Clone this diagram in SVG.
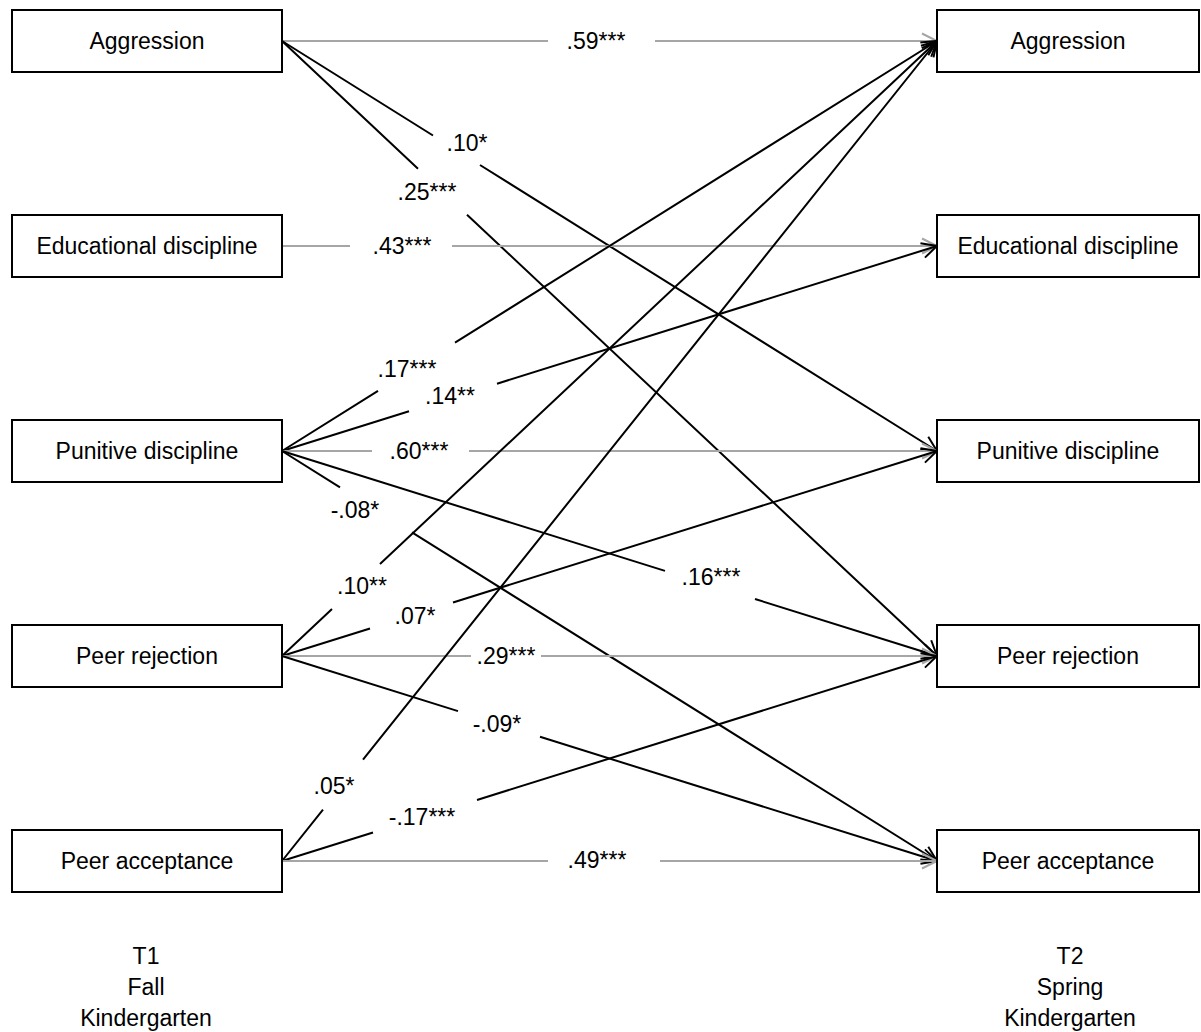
<svg xmlns="http://www.w3.org/2000/svg" width="1201" height="1032" viewBox="0 0 1201 1032">
<style>
.box{fill:#fff;stroke:#000;stroke-width:2}
.t{font-family:"Liberation Sans",Arial,sans-serif;font-size:23px;fill:#000;text-anchor:middle}
.b{fill:none;stroke:#000;stroke-width:2}
.g{fill:none;stroke:#a6a6a6;stroke-width:2}
</style>
<defs>
<marker id="ab" markerUnits="userSpaceOnUse" markerWidth="18" markerHeight="18" viewBox="0 0 18 18" refX="16" refY="9" orient="auto" overflow="visible">
<path d="M1,1.5 L16,9 L1,16.5" fill="none" stroke="#000" stroke-width="2"/>
</marker>
<marker id="ag" markerUnits="userSpaceOnUse" markerWidth="18" markerHeight="18" viewBox="0 0 18 18" refX="16" refY="9" orient="auto" overflow="visible">
<path d="M1,1.5 L16,9 L1,16.5" fill="none" stroke="#a6a6a6" stroke-width="2"/>
</marker>
</defs>
<rect width="1201" height="1032" fill="#fff"/>
<g id="connectors">
<path class="g" marker-end="url(#ag)" d="M282,41 L548,41 M655,41 L937,41"/>
<path class="b" marker-end="url(#ab)" d="M282,41 L433,135.5 M480,165 L937,451"/>
<path class="b" marker-end="url(#ab)" d="M282,41 L418,168.7 M467,214.7 L937,656"/>
<path class="g" marker-end="url(#ag)" d="M282,246 L350,246 M452,246 L937,246"/>
<path class="b" marker-end="url(#ab)" d="M282,451 L378,390.9 M455,342.7 L937,41"/>
<path class="b" marker-end="url(#ab)" d="M282,451 L409,411.2 M497,383.7 L937,246"/>
<path class="g" marker-end="url(#ag)" d="M282,451 L372,451 M469,451 L937,451"/>
<path class="b" marker-end="url(#ab)" d="M282,451 L665,570.9 M755,599 L937,656"/>
<path class="b" marker-end="url(#ab)" d="M282,451 L340,487.3 M412,532.4 L937,861"/>
<path class="b" marker-end="url(#ab)" d="M282,656 L332,609 M380,564 L937,41"/>
<path class="b" marker-end="url(#ab)" d="M282,656 L370,628.5 M453,602.5 L937,451"/>
<path class="g" marker-end="url(#ag)" d="M282,656 L471,656 M541,656 L937,656"/>
<path class="b" marker-end="url(#ab)" d="M282,656 L458,711.1 M540,736.8 L937,861"/>
<path class="b" marker-end="url(#ab)" d="M282,861 L323,809.7 M363,759.6 L937,41"/>
<path class="b" marker-end="url(#ab)" d="M282,861 L373,832.5 M477,800 L937,656"/>
<path class="g" marker-end="url(#ag)" d="M282,861 L548,861 M660,861 L937,861"/>
</g>
<g id="labels">
<text class="t" x="596" y="49">.59***</text>
<text class="t" x="467" y="151">.10*</text>
<text class="t" x="427" y="200">.25***</text>
<text class="t" x="402" y="254">.43***</text>
<text class="t" x="407" y="377">.17***</text>
<text class="t" x="450" y="404">.14**</text>
<text class="t" x="419" y="459">.60***</text>
<text class="t" x="711" y="585">.16***</text>
<text class="t" x="355" y="518">-.08*</text>
<text class="t" x="362" y="594">.10**</text>
<text class="t" x="415" y="624">.07*</text>
<text class="t" x="506" y="664">.29***</text>
<text class="t" x="497" y="732">-.09*</text>
<text class="t" x="334" y="794">.05*</text>
<text class="t" x="422" y="825">-.17***</text>
<text class="t" x="597" y="868">.49***</text>
</g>
<g id="n-l-aggr"><rect class="box" x="12" y="10" width="270" height="62"/><text class="t" x="147" y="49">Aggression</text></g>
<g id="n-l-edu"><rect class="box" x="12" y="215" width="270" height="62"/><text class="t" x="147" y="254">Educational discipline</text></g>
<g id="n-l-pun"><rect class="box" x="12" y="420" width="270" height="62"/><text class="t" x="147" y="459">Punitive discipline</text></g>
<g id="n-l-rej"><rect class="box" x="12" y="625" width="270" height="62"/><text class="t" x="147" y="664">Peer rejection</text></g>
<g id="n-l-acc"><rect class="box" x="12" y="830" width="270" height="62"/><text class="t" x="147" y="869">Peer acceptance</text></g>
<g id="n-r-aggr"><rect class="box" x="937" y="10" width="262" height="62"/><text class="t" x="1068" y="49">Aggression</text></g>
<g id="n-r-edu"><rect class="box" x="937" y="215" width="262" height="62"/><text class="t" x="1068" y="254">Educational discipline</text></g>
<g id="n-r-pun"><rect class="box" x="937" y="420" width="262" height="62"/><text class="t" x="1068" y="459">Punitive discipline</text></g>
<g id="n-r-rej"><rect class="box" x="937" y="625" width="262" height="62"/><text class="t" x="1068" y="664">Peer rejection</text></g>
<g id="n-r-acc"><rect class="box" x="937" y="830" width="262" height="62"/><text class="t" x="1068" y="869">Peer acceptance</text></g>
<g id="time-t1">
<text class="t" x="146" y="964">T1</text>
<text class="t" x="146" y="995">Fall</text>
<text class="t" x="146" y="1026">Kindergarten</text>
</g>
<g id="time-t2">
<text class="t" x="1070" y="964">T2</text>
<text class="t" x="1070" y="995">Spring</text>
<text class="t" x="1070" y="1026">Kindergarten</text>
</g>
</svg>
